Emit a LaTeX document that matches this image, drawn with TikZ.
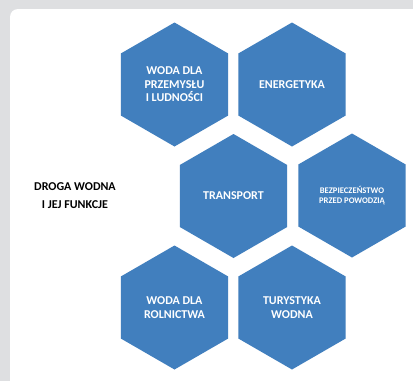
\documentclass[tikz,border=0pt]{standalone}
\usepackage{fontspec}
\setmainfont{Carlito}
\usepackage{xcolor}
\definecolor{wblue}{RGB}{65,127,190}
\definecolor{wgrey}{RGB}{222,223,225}
\usepackage{tikz}
\usetikzlibrary{shapes.geometric}
\tikzset{
  hexa/.style={regular polygon, regular polygon sides=6, shape border rotate=30, fill=wblue, draw=none, inner sep=0pt, minimum size=124pt, text=white, align=center, font=\fontsize{12}{13.5}\selectfont\bfseries},
  hexsmall/.style={hexa, font=\fontsize{8.6}{9.5}\selectfont\bfseries},
  title/.style={align=center, text=black, font=\fontsize{12}{18}\selectfont\bfseries}
}

\begin{document}
\begin{tikzpicture}[x=1pt,y=-1pt]
  \useasboundingbox (0,0) rectangle (413,381);
  \clip (0,0) rectangle (413,381);
  \fill[wgrey] (0,0) rectangle (413,381);
  \fill[white, rounded corners=8pt] (10,9) rectangle (440,410);
  % honeycomb, three rows of two cells
  \node[hexa] (woda) at (174.5,84.5) {WODA DLA\\PRZEMYSŁU\\I LUDNOŚCI};
  \node[hexa] (energ) at (292,84.5) {ENERGETYKA};
  \node[hexa] (transp) at (233.5,196) {TRANSPORT};
  \node[hexsmall] (bezp) at (352,195.5) {BEZPIECZEŃSTWO\\PRZED POWODZIĄ};
  \node[hexa] (roln) at (174.5,307.5) {WODA DLA\\ROLNICTWA};
  \node[hexa] (turyst) at (292,307.5) {TURYSTYKA\\WODNA};
  \node[title] (droga) at (75,195.5) {DROGA WODNA\\I JEJ FUNKCJE};
\end{tikzpicture}
\end{document}
